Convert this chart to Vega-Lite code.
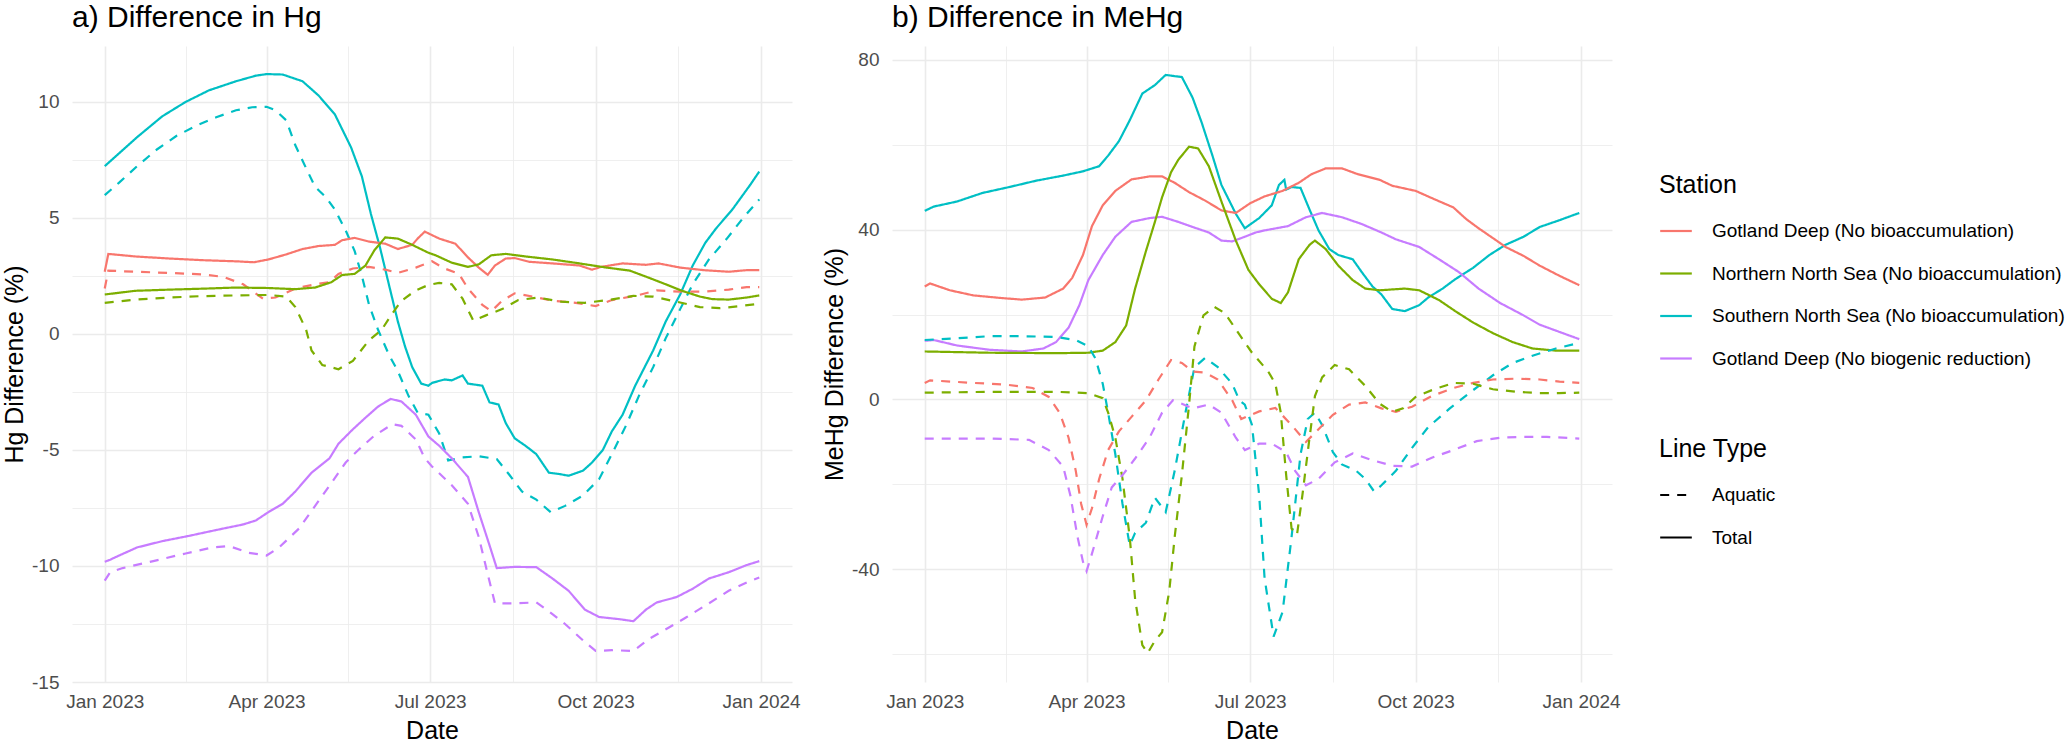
{
  "$schema": "https://vega.github.io/schema/vega-lite/v6.json",
  "background": "white",
  "padding": {"left": 2, "top": 3, "right": 0, "bottom": 0},
  "config": {
    "font": "Liberation Sans",
    "view": {"stroke": null},
    "axis": {"domain": false, "ticks": false, "labelColor": "#4D4D4D", "labelFontSize": 19, "titleFontSize": 25, "titleFontWeight": "normal", "titleColor": "#000000", "gridColor": "#EBEBEB", "labelOverlap": false, "labelFlush": false, "labelBound": false},
    "title": {"fontSize": 30, "fontWeight": "normal", "anchor": "start", "frame": "group", "offset": 13, "color": "#000000"},
    "legend": {"titleFontSize": 25, "titleFontWeight": "normal", "titleColor": "#000000", "labelFontSize": 19, "labelColor": "#000000", "labelLimit": 600, "symbolType": "stroke", "symbolSize": 1000, "symbolStrokeWidth": 2.2, "rowPadding": 15.5, "titlePadding": 16, "labelOffset": 19}
  },
  "datasets": {
    "stations": [
      {"code": "GD", "name": "Gotland Deep (No bioaccumulation)"},
      {"code": "NNS", "name": "Northern North Sea (No bioaccumulation)"},
      {"code": "SNS", "name": "Southern North Sea (No bioaccumulation)"},
      {"code": "GDB", "name": "Gotland Deep (No biogenic reduction)"}
    ],
    "hg": [
      {"station":"SNS","type":"Total","date":"2023-01-01","value":7.23},
      {"station":"SNS","type":"Total","date":"2023-01-19","value":8.48},
      {"station":"SNS","type":"Total","date":"2023-02-02","value":9.38},
      {"station":"SNS","type":"Total","date":"2023-02-15","value":10.0},
      {"station":"SNS","type":"Total","date":"2023-02-28","value":10.5},
      {"station":"SNS","type":"Total","date":"2023-03-15","value":10.89},
      {"station":"SNS","type":"Total","date":"2023-03-26","value":11.13},
      {"station":"SNS","type":"Total","date":"2023-04-01","value":11.2},
      {"station":"SNS","type":"Total","date":"2023-04-10","value":11.18},
      {"station":"SNS","type":"Total","date":"2023-04-21","value":10.89},
      {"station":"SNS","type":"Total","date":"2023-04-30","value":10.27},
      {"station":"SNS","type":"Total","date":"2023-05-09","value":9.46},
      {"station":"SNS","type":"Total","date":"2023-05-18","value":8.04},
      {"station":"SNS","type":"Total","date":"2023-05-24","value":6.79},
      {"station":"SNS","type":"Total","date":"2023-05-29","value":5.18},
      {"station":"SNS","type":"Total","date":"2023-06-03","value":3.75},
      {"station":"SNS","type":"Total","date":"2023-06-08","value":2.14},
      {"station":"SNS","type":"Total","date":"2023-06-13","value":0.54},
      {"station":"SNS","type":"Total","date":"2023-06-17","value":-0.54},
      {"station":"SNS","type":"Total","date":"2023-06-21","value":-1.43},
      {"station":"SNS","type":"Total","date":"2023-06-26","value":-2.14},
      {"station":"SNS","type":"Total","date":"2023-06-30","value":-2.23},
      {"station":"SNS","type":"Total","date":"2023-07-02","value":-2.11},
      {"station":"SNS","type":"Total","date":"2023-07-09","value":-1.96},
      {"station":"SNS","type":"Total","date":"2023-07-13","value":-2.0},
      {"station":"SNS","type":"Total","date":"2023-07-19","value":-1.79},
      {"station":"SNS","type":"Total","date":"2023-07-22","value":-2.14},
      {"station":"SNS","type":"Total","date":"2023-07-30","value":-2.23},
      {"station":"SNS","type":"Total","date":"2023-08-03","value":-2.95},
      {"station":"SNS","type":"Total","date":"2023-08-08","value":-3.04},
      {"station":"SNS","type":"Total","date":"2023-08-12","value":-3.84},
      {"station":"SNS","type":"Total","date":"2023-08-17","value":-4.5},
      {"station":"SNS","type":"Total","date":"2023-08-23","value":-4.82},
      {"station":"SNS","type":"Total","date":"2023-08-29","value":-5.18},
      {"station":"SNS","type":"Total","date":"2023-09-05","value":-5.98},
      {"station":"SNS","type":"Total","date":"2023-09-11","value":-6.04},
      {"station":"SNS","type":"Total","date":"2023-09-16","value":-6.11},
      {"station":"SNS","type":"Total","date":"2023-09-24","value":-5.89},
      {"station":"SNS","type":"Total","date":"2023-09-29","value":-5.54},
      {"station":"SNS","type":"Total","date":"2023-10-05","value":-5.0},
      {"station":"SNS","type":"Total","date":"2023-10-10","value":-4.2},
      {"station":"SNS","type":"Total","date":"2023-10-16","value":-3.48},
      {"station":"SNS","type":"Total","date":"2023-10-23","value":-2.23},
      {"station":"SNS","type":"Total","date":"2023-11-02","value":-0.71},
      {"station":"SNS","type":"Total","date":"2023-11-09","value":0.54},
      {"station":"SNS","type":"Total","date":"2023-11-17","value":1.7},
      {"station":"SNS","type":"Total","date":"2023-11-24","value":2.95},
      {"station":"SNS","type":"Total","date":"2023-12-01","value":3.93},
      {"station":"SNS","type":"Total","date":"2023-12-07","value":4.55},
      {"station":"SNS","type":"Total","date":"2023-12-16","value":5.36},
      {"station":"SNS","type":"Total","date":"2023-12-26","value":6.43},
      {"station":"SNS","type":"Total","date":"2023-12-31","value":7.0},
      {"station":"SNS","type":"Aquatic","date":"2023-01-01","value":5.98},
      {"station":"SNS","type":"Aquatic","date":"2023-01-09","value":6.52},
      {"station":"SNS","type":"Aquatic","date":"2023-01-19","value":7.23},
      {"station":"SNS","type":"Aquatic","date":"2023-01-30","value":7.95},
      {"station":"SNS","type":"Aquatic","date":"2023-02-10","value":8.54},
      {"station":"SNS","type":"Aquatic","date":"2023-02-21","value":8.98},
      {"station":"SNS","type":"Aquatic","date":"2023-03-04","value":9.34},
      {"station":"SNS","type":"Aquatic","date":"2023-03-15","value":9.64},
      {"station":"SNS","type":"Aquatic","date":"2023-03-24","value":9.77},
      {"station":"SNS","type":"Aquatic","date":"2023-04-01","value":9.79},
      {"station":"SNS","type":"Aquatic","date":"2023-04-06","value":9.64},
      {"station":"SNS","type":"Aquatic","date":"2023-04-12","value":9.2},
      {"station":"SNS","type":"Aquatic","date":"2023-04-17","value":8.13},
      {"station":"SNS","type":"Aquatic","date":"2023-04-23","value":7.14},
      {"station":"SNS","type":"Aquatic","date":"2023-04-28","value":6.34},
      {"station":"SNS","type":"Aquatic","date":"2023-05-04","value":5.89},
      {"station":"SNS","type":"Aquatic","date":"2023-05-09","value":5.36},
      {"station":"SNS","type":"Aquatic","date":"2023-05-15","value":4.46},
      {"station":"SNS","type":"Aquatic","date":"2023-05-20","value":3.57},
      {"station":"SNS","type":"Aquatic","date":"2023-05-24","value":2.5},
      {"station":"SNS","type":"Aquatic","date":"2023-05-28","value":1.25},
      {"station":"SNS","type":"Aquatic","date":"2023-06-02","value":0.18},
      {"station":"SNS","type":"Aquatic","date":"2023-06-08","value":-0.89},
      {"station":"SNS","type":"Aquatic","date":"2023-06-13","value":-1.6},
      {"station":"SNS","type":"Aquatic","date":"2023-06-19","value":-2.68},
      {"station":"SNS","type":"Aquatic","date":"2023-06-24","value":-3.39},
      {"station":"SNS","type":"Aquatic","date":"2023-06-30","value":-3.48},
      {"station":"SNS","type":"Aquatic","date":"2023-07-06","value":-4.29},
      {"station":"SNS","type":"Aquatic","date":"2023-07-11","value":-5.45},
      {"station":"SNS","type":"Aquatic","date":"2023-07-19","value":-5.32},
      {"station":"SNS","type":"Aquatic","date":"2023-07-28","value":-5.27},
      {"station":"SNS","type":"Aquatic","date":"2023-08-07","value":-5.39},
      {"station":"SNS","type":"Aquatic","date":"2023-08-14","value":-6.07},
      {"station":"SNS","type":"Aquatic","date":"2023-08-21","value":-6.79},
      {"station":"SNS","type":"Aquatic","date":"2023-08-29","value":-7.14},
      {"station":"SNS","type":"Aquatic","date":"2023-09-06","value":-7.68},
      {"station":"SNS","type":"Aquatic","date":"2023-09-14","value":-7.41},
      {"station":"SNS","type":"Aquatic","date":"2023-09-24","value":-6.96},
      {"station":"SNS","type":"Aquatic","date":"2023-10-03","value":-6.25},
      {"station":"SNS","type":"Aquatic","date":"2023-10-10","value":-5.18},
      {"station":"SNS","type":"Aquatic","date":"2023-10-18","value":-3.93},
      {"station":"SNS","type":"Aquatic","date":"2023-10-25","value":-2.68},
      {"station":"SNS","type":"Aquatic","date":"2023-11-02","value":-1.43},
      {"station":"SNS","type":"Aquatic","date":"2023-11-09","value":-0.18},
      {"station":"SNS","type":"Aquatic","date":"2023-11-17","value":1.07},
      {"station":"SNS","type":"Aquatic","date":"2023-11-24","value":2.14},
      {"station":"SNS","type":"Aquatic","date":"2023-12-03","value":3.21},
      {"station":"SNS","type":"Aquatic","date":"2023-12-13","value":4.11},
      {"station":"SNS","type":"Aquatic","date":"2023-12-22","value":5.0},
      {"station":"SNS","type":"Aquatic","date":"2023-12-31","value":5.8},
      {"station":"GD","type":"Total","date":"2023-01-01","value":2.68},
      {"station":"GD","type":"Total","date":"2023-01-03","value":3.45},
      {"station":"GD","type":"Total","date":"2023-01-18","value":3.34},
      {"station":"GD","type":"Total","date":"2023-02-06","value":3.25},
      {"station":"GD","type":"Total","date":"2023-02-24","value":3.18},
      {"station":"GD","type":"Total","date":"2023-03-15","value":3.13},
      {"station":"GD","type":"Total","date":"2023-03-25","value":3.09},
      {"station":"GD","type":"Total","date":"2023-04-02","value":3.21},
      {"station":"GD","type":"Total","date":"2023-04-12","value":3.43},
      {"station":"GD","type":"Total","date":"2023-04-21","value":3.66},
      {"station":"GD","type":"Total","date":"2023-04-30","value":3.79},
      {"station":"GD","type":"Total","date":"2023-05-09","value":3.84},
      {"station":"GD","type":"Total","date":"2023-05-13","value":4.04},
      {"station":"GD","type":"Total","date":"2023-05-20","value":4.14},
      {"station":"GD","type":"Total","date":"2023-05-28","value":3.98},
      {"station":"GD","type":"Total","date":"2023-06-06","value":3.89},
      {"station":"GD","type":"Total","date":"2023-06-13","value":3.66},
      {"station":"GD","type":"Total","date":"2023-06-21","value":3.84},
      {"station":"GD","type":"Total","date":"2023-06-24","value":4.11},
      {"station":"GD","type":"Total","date":"2023-06-28","value":4.41},
      {"station":"GD","type":"Total","date":"2023-07-06","value":4.11},
      {"station":"GD","type":"Total","date":"2023-07-15","value":3.89},
      {"station":"GD","type":"Total","date":"2023-07-22","value":3.3},
      {"station":"GD","type":"Total","date":"2023-07-28","value":2.86},
      {"station":"GD","type":"Total","date":"2023-08-02","value":2.55},
      {"station":"GD","type":"Total","date":"2023-08-06","value":2.95},
      {"station":"GD","type":"Total","date":"2023-08-12","value":3.25},
      {"station":"GD","type":"Total","date":"2023-08-17","value":3.27},
      {"station":"GD","type":"Total","date":"2023-08-25","value":3.11},
      {"station":"GD","type":"Total","date":"2023-09-07","value":3.04},
      {"station":"GD","type":"Total","date":"2023-09-22","value":2.95},
      {"station":"GD","type":"Total","date":"2023-09-29","value":2.77},
      {"station":"GD","type":"Total","date":"2023-10-04","value":2.89},
      {"station":"GD","type":"Total","date":"2023-10-16","value":3.04},
      {"station":"GD","type":"Total","date":"2023-10-29","value":2.98},
      {"station":"GD","type":"Total","date":"2023-11-05","value":3.04},
      {"station":"GD","type":"Total","date":"2023-11-17","value":2.86},
      {"station":"GD","type":"Total","date":"2023-11-30","value":2.75},
      {"station":"GD","type":"Total","date":"2023-12-14","value":2.68},
      {"station":"GD","type":"Total","date":"2023-12-24","value":2.75},
      {"station":"GD","type":"Total","date":"2023-12-31","value":2.75},
      {"station":"GD","type":"Aquatic","date":"2023-01-01","value":1.96},
      {"station":"GD","type":"Aquatic","date":"2023-01-03","value":2.73},
      {"station":"GD","type":"Aquatic","date":"2023-01-18","value":2.68},
      {"station":"GD","type":"Aquatic","date":"2023-02-06","value":2.63},
      {"station":"GD","type":"Aquatic","date":"2023-02-24","value":2.57},
      {"station":"GD","type":"Aquatic","date":"2023-03-08","value":2.46},
      {"station":"GD","type":"Aquatic","date":"2023-03-19","value":2.14},
      {"station":"GD","type":"Aquatic","date":"2023-03-30","value":1.52},
      {"station":"GD","type":"Aquatic","date":"2023-04-06","value":1.57},
      {"station":"GD","type":"Aquatic","date":"2023-04-17","value":1.96},
      {"station":"GD","type":"Aquatic","date":"2023-04-28","value":2.14},
      {"station":"GD","type":"Aquatic","date":"2023-05-06","value":2.23},
      {"station":"GD","type":"Aquatic","date":"2023-05-11","value":2.59},
      {"station":"GD","type":"Aquatic","date":"2023-05-19","value":2.82},
      {"station":"GD","type":"Aquatic","date":"2023-05-28","value":2.89},
      {"station":"GD","type":"Aquatic","date":"2023-06-06","value":2.77},
      {"station":"GD","type":"Aquatic","date":"2023-06-13","value":2.63},
      {"station":"GD","type":"Aquatic","date":"2023-06-23","value":2.86},
      {"station":"GD","type":"Aquatic","date":"2023-06-26","value":2.95},
      {"station":"GD","type":"Aquatic","date":"2023-07-02","value":3.13},
      {"station":"GD","type":"Aquatic","date":"2023-07-09","value":2.82},
      {"station":"GD","type":"Aquatic","date":"2023-07-17","value":2.59},
      {"station":"GD","type":"Aquatic","date":"2023-07-22","value":1.96},
      {"station":"GD","type":"Aquatic","date":"2023-07-30","value":1.25},
      {"station":"GD","type":"Aquatic","date":"2023-08-04","value":0.98},
      {"station":"GD","type":"Aquatic","date":"2023-08-10","value":1.43},
      {"station":"GD","type":"Aquatic","date":"2023-08-17","value":1.75},
      {"station":"GD","type":"Aquatic","date":"2023-08-27","value":1.61},
      {"station":"GD","type":"Aquatic","date":"2023-09-07","value":1.43},
      {"station":"GD","type":"Aquatic","date":"2023-09-20","value":1.34},
      {"station":"GD","type":"Aquatic","date":"2023-10-01","value":1.2},
      {"station":"GD","type":"Aquatic","date":"2023-10-10","value":1.46},
      {"station":"GD","type":"Aquatic","date":"2023-10-23","value":1.64},
      {"station":"GD","type":"Aquatic","date":"2023-11-04","value":1.88},
      {"station":"GD","type":"Aquatic","date":"2023-11-17","value":1.82},
      {"station":"GD","type":"Aquatic","date":"2023-11-30","value":1.82},
      {"station":"GD","type":"Aquatic","date":"2023-12-14","value":1.91},
      {"station":"GD","type":"Aquatic","date":"2023-12-24","value":2.02},
      {"station":"GD","type":"Aquatic","date":"2023-12-31","value":2.02},
      {"station":"NNS","type":"Total","date":"2023-01-01","value":1.7},
      {"station":"NNS","type":"Total","date":"2023-01-18","value":1.86},
      {"station":"NNS","type":"Total","date":"2023-02-06","value":1.91},
      {"station":"NNS","type":"Total","date":"2023-02-24","value":1.95},
      {"station":"NNS","type":"Total","date":"2023-03-15","value":2.0},
      {"station":"NNS","type":"Total","date":"2023-04-02","value":1.98},
      {"station":"NNS","type":"Total","date":"2023-04-17","value":1.93},
      {"station":"NNS","type":"Total","date":"2023-04-28","value":2.0},
      {"station":"NNS","type":"Total","date":"2023-05-07","value":2.23},
      {"station":"NNS","type":"Total","date":"2023-05-13","value":2.54},
      {"station":"NNS","type":"Total","date":"2023-05-20","value":2.59},
      {"station":"NNS","type":"Total","date":"2023-05-26","value":2.95},
      {"station":"NNS","type":"Total","date":"2023-05-31","value":3.61},
      {"station":"NNS","type":"Total","date":"2023-06-06","value":4.16},
      {"station":"NNS","type":"Total","date":"2023-06-13","value":4.11},
      {"station":"NNS","type":"Total","date":"2023-06-21","value":3.84},
      {"station":"NNS","type":"Total","date":"2023-06-26","value":3.65},
      {"station":"NNS","type":"Total","date":"2023-06-30","value":3.5},
      {"station":"NNS","type":"Total","date":"2023-07-04","value":3.39},
      {"station":"NNS","type":"Total","date":"2023-07-13","value":3.07},
      {"station":"NNS","type":"Total","date":"2023-07-22","value":2.89},
      {"station":"NNS","type":"Total","date":"2023-07-28","value":3.0},
      {"station":"NNS","type":"Total","date":"2023-08-04","value":3.39},
      {"station":"NNS","type":"Total","date":"2023-08-12","value":3.45},
      {"station":"NNS","type":"Total","date":"2023-08-23","value":3.34},
      {"station":"NNS","type":"Total","date":"2023-09-07","value":3.21},
      {"station":"NNS","type":"Total","date":"2023-09-22","value":3.04},
      {"station":"NNS","type":"Total","date":"2023-10-07","value":2.86},
      {"station":"NNS","type":"Total","date":"2023-10-20","value":2.73},
      {"station":"NNS","type":"Total","date":"2023-10-31","value":2.41},
      {"station":"NNS","type":"Total","date":"2023-11-09","value":2.14},
      {"station":"NNS","type":"Total","date":"2023-11-18","value":1.86},
      {"station":"NNS","type":"Total","date":"2023-11-28","value":1.61},
      {"station":"NNS","type":"Total","date":"2023-12-05","value":1.5},
      {"station":"NNS","type":"Total","date":"2023-12-14","value":1.48},
      {"station":"NNS","type":"Total","date":"2023-12-24","value":1.57},
      {"station":"NNS","type":"Total","date":"2023-12-31","value":1.66},
      {"station":"NNS","type":"Aquatic","date":"2023-01-01","value":1.34},
      {"station":"NNS","type":"Aquatic","date":"2023-01-18","value":1.48},
      {"station":"NNS","type":"Aquatic","date":"2023-02-06","value":1.57},
      {"station":"NNS","type":"Aquatic","date":"2023-02-24","value":1.63},
      {"station":"NNS","type":"Aquatic","date":"2023-03-15","value":1.66},
      {"station":"NNS","type":"Aquatic","date":"2023-04-02","value":1.68},
      {"station":"NNS","type":"Aquatic","date":"2023-04-12","value":1.61},
      {"station":"NNS","type":"Aquatic","date":"2023-04-17","value":1.16},
      {"station":"NNS","type":"Aquatic","date":"2023-04-23","value":0.18},
      {"station":"NNS","type":"Aquatic","date":"2023-04-26","value":-0.71},
      {"station":"NNS","type":"Aquatic","date":"2023-05-02","value":-1.34},
      {"station":"NNS","type":"Aquatic","date":"2023-05-11","value":-1.52},
      {"station":"NNS","type":"Aquatic","date":"2023-05-19","value":-1.16},
      {"station":"NNS","type":"Aquatic","date":"2023-05-28","value":-0.27},
      {"station":"NNS","type":"Aquatic","date":"2023-06-04","value":0.18},
      {"station":"NNS","type":"Aquatic","date":"2023-06-10","value":0.89},
      {"station":"NNS","type":"Aquatic","date":"2023-06-15","value":1.43},
      {"station":"NNS","type":"Aquatic","date":"2023-06-23","value":1.88},
      {"station":"NNS","type":"Aquatic","date":"2023-06-30","value":2.11},
      {"station":"NNS","type":"Aquatic","date":"2023-07-06","value":2.2},
      {"station":"NNS","type":"Aquatic","date":"2023-07-13","value":2.14},
      {"station":"NNS","type":"Aquatic","date":"2023-07-19","value":1.52},
      {"station":"NNS","type":"Aquatic","date":"2023-07-25","value":0.57},
      {"station":"NNS","type":"Aquatic","date":"2023-08-01","value":0.8},
      {"station":"NNS","type":"Aquatic","date":"2023-08-10","value":1.07},
      {"station":"NNS","type":"Aquatic","date":"2023-08-19","value":1.46},
      {"station":"NNS","type":"Aquatic","date":"2023-08-30","value":1.57},
      {"station":"NNS","type":"Aquatic","date":"2023-09-12","value":1.39},
      {"station":"NNS","type":"Aquatic","date":"2023-09-25","value":1.34},
      {"station":"NNS","type":"Aquatic","date":"2023-10-08","value":1.46},
      {"station":"NNS","type":"Aquatic","date":"2023-10-22","value":1.64},
      {"station":"NNS","type":"Aquatic","date":"2023-11-02","value":1.61},
      {"station":"NNS","type":"Aquatic","date":"2023-11-15","value":1.39},
      {"station":"NNS","type":"Aquatic","date":"2023-11-28","value":1.16},
      {"station":"NNS","type":"Aquatic","date":"2023-12-09","value":1.11},
      {"station":"NNS","type":"Aquatic","date":"2023-12-20","value":1.2},
      {"station":"NNS","type":"Aquatic","date":"2023-12-31","value":1.3},
      {"station":"GDB","type":"Total","date":"2023-01-01","value":-9.82},
      {"station":"GDB","type":"Total","date":"2023-01-04","value":-9.73},
      {"station":"GDB","type":"Total","date":"2023-01-09","value":-9.55},
      {"station":"GDB","type":"Total","date":"2023-01-19","value":-9.2},
      {"station":"GDB","type":"Total","date":"2023-02-02","value":-8.93},
      {"station":"GDB","type":"Total","date":"2023-02-17","value":-8.7},
      {"station":"GDB","type":"Total","date":"2023-03-04","value":-8.45},
      {"station":"GDB","type":"Total","date":"2023-03-19","value":-8.21},
      {"station":"GDB","type":"Total","date":"2023-03-26","value":-8.04},
      {"station":"GDB","type":"Total","date":"2023-04-02","value":-7.68},
      {"station":"GDB","type":"Total","date":"2023-04-10","value":-7.32},
      {"station":"GDB","type":"Total","date":"2023-04-17","value":-6.79},
      {"station":"GDB","type":"Total","date":"2023-04-26","value":-5.98},
      {"station":"GDB","type":"Total","date":"2023-05-06","value":-5.36},
      {"station":"GDB","type":"Total","date":"2023-05-11","value":-4.73},
      {"station":"GDB","type":"Total","date":"2023-05-19","value":-4.11},
      {"station":"GDB","type":"Total","date":"2023-05-26","value":-3.61},
      {"station":"GDB","type":"Total","date":"2023-06-02","value":-3.13},
      {"station":"GDB","type":"Total","date":"2023-06-09","value":-2.8},
      {"station":"GDB","type":"Total","date":"2023-06-15","value":-2.91},
      {"station":"GDB","type":"Total","date":"2023-06-23","value":-3.48},
      {"station":"GDB","type":"Total","date":"2023-06-30","value":-4.42},
      {"station":"GDB","type":"Total","date":"2023-07-06","value":-4.82},
      {"station":"GDB","type":"Total","date":"2023-07-13","value":-5.36},
      {"station":"GDB","type":"Total","date":"2023-07-22","value":-6.16},
      {"station":"GDB","type":"Total","date":"2023-07-28","value":-7.68},
      {"station":"GDB","type":"Total","date":"2023-08-03","value":-9.11},
      {"station":"GDB","type":"Total","date":"2023-08-07","value":-10.09},
      {"station":"GDB","type":"Total","date":"2023-08-17","value":-10.04},
      {"station":"GDB","type":"Total","date":"2023-08-29","value":-10.05},
      {"station":"GDB","type":"Total","date":"2023-09-07","value":-10.54},
      {"station":"GDB","type":"Total","date":"2023-09-16","value":-11.07},
      {"station":"GDB","type":"Total","date":"2023-09-25","value":-11.88},
      {"station":"GDB","type":"Total","date":"2023-10-03","value":-12.2},
      {"station":"GDB","type":"Total","date":"2023-10-14","value":-12.29},
      {"station":"GDB","type":"Total","date":"2023-10-22","value":-12.38},
      {"station":"GDB","type":"Total","date":"2023-10-29","value":-11.88},
      {"station":"GDB","type":"Total","date":"2023-11-04","value":-11.57},
      {"station":"GDB","type":"Total","date":"2023-11-15","value":-11.34},
      {"station":"GDB","type":"Total","date":"2023-11-24","value":-10.98},
      {"station":"GDB","type":"Total","date":"2023-12-03","value":-10.54},
      {"station":"GDB","type":"Total","date":"2023-12-14","value":-10.27},
      {"station":"GDB","type":"Total","date":"2023-12-24","value":-9.96},
      {"station":"GDB","type":"Total","date":"2023-12-31","value":-9.79},
      {"station":"GDB","type":"Aquatic","date":"2023-01-01","value":-10.63},
      {"station":"GDB","type":"Aquatic","date":"2023-01-04","value":-10.27},
      {"station":"GDB","type":"Aquatic","date":"2023-01-11","value":-10.09},
      {"station":"GDB","type":"Aquatic","date":"2023-01-28","value":-9.79},
      {"station":"GDB","type":"Aquatic","date":"2023-02-15","value":-9.46},
      {"station":"GDB","type":"Aquatic","date":"2023-03-02","value":-9.2},
      {"station":"GDB","type":"Aquatic","date":"2023-03-11","value":-9.14},
      {"station":"GDB","type":"Aquatic","date":"2023-03-22","value":-9.43},
      {"station":"GDB","type":"Aquatic","date":"2023-04-01","value":-9.55},
      {"station":"GDB","type":"Aquatic","date":"2023-04-08","value":-9.2},
      {"station":"GDB","type":"Aquatic","date":"2023-04-19","value":-8.39},
      {"station":"GDB","type":"Aquatic","date":"2023-04-28","value":-7.41},
      {"station":"GDB","type":"Aquatic","date":"2023-05-07","value":-6.43},
      {"station":"GDB","type":"Aquatic","date":"2023-05-15","value":-5.54},
      {"station":"GDB","type":"Aquatic","date":"2023-05-22","value":-5.0},
      {"station":"GDB","type":"Aquatic","date":"2023-05-31","value":-4.38},
      {"station":"GDB","type":"Aquatic","date":"2023-06-10","value":-3.89},
      {"station":"GDB","type":"Aquatic","date":"2023-06-15","value":-3.96},
      {"station":"GDB","type":"Aquatic","date":"2023-06-23","value":-4.55},
      {"station":"GDB","type":"Aquatic","date":"2023-06-28","value":-5.36},
      {"station":"GDB","type":"Aquatic","date":"2023-07-02","value":-5.71},
      {"station":"GDB","type":"Aquatic","date":"2023-07-13","value":-6.52},
      {"station":"GDB","type":"Aquatic","date":"2023-07-22","value":-7.32},
      {"station":"GDB","type":"Aquatic","date":"2023-07-28","value":-8.75},
      {"station":"GDB","type":"Aquatic","date":"2023-08-02","value":-10.36},
      {"station":"GDB","type":"Aquatic","date":"2023-08-06","value":-11.61},
      {"station":"GDB","type":"Aquatic","date":"2023-08-17","value":-11.61},
      {"station":"GDB","type":"Aquatic","date":"2023-08-29","value":-11.57},
      {"station":"GDB","type":"Aquatic","date":"2023-09-05","value":-11.96},
      {"station":"GDB","type":"Aquatic","date":"2023-09-14","value":-12.5},
      {"station":"GDB","type":"Aquatic","date":"2023-09-24","value":-13.21},
      {"station":"GDB","type":"Aquatic","date":"2023-10-01","value":-13.66},
      {"station":"GDB","type":"Aquatic","date":"2023-10-10","value":-13.63},
      {"station":"GDB","type":"Aquatic","date":"2023-10-22","value":-13.66},
      {"station":"GDB","type":"Aquatic","date":"2023-10-31","value":-13.13},
      {"station":"GDB","type":"Aquatic","date":"2023-11-11","value":-12.64},
      {"station":"GDB","type":"Aquatic","date":"2023-11-20","value":-12.23},
      {"station":"GDB","type":"Aquatic","date":"2023-12-03","value":-11.61},
      {"station":"GDB","type":"Aquatic","date":"2023-12-14","value":-11.07},
      {"station":"GDB","type":"Aquatic","date":"2023-12-24","value":-10.71},
      {"station":"GDB","type":"Aquatic","date":"2023-12-31","value":-10.5}
    ],
    "mehg": [
      {"station":"SNS","type":"Total","date":"2023-01-01","value":44.4},
      {"station":"SNS","type":"Total","date":"2023-01-06","value":45.4},
      {"station":"SNS","type":"Total","date":"2023-01-19","value":46.6},
      {"station":"SNS","type":"Total","date":"2023-02-02","value":48.6},
      {"station":"SNS","type":"Total","date":"2023-02-17","value":50.0},
      {"station":"SNS","type":"Total","date":"2023-03-04","value":51.5},
      {"station":"SNS","type":"Total","date":"2023-03-19","value":52.7},
      {"station":"SNS","type":"Total","date":"2023-03-30","value":53.7},
      {"station":"SNS","type":"Total","date":"2023-04-08","value":54.9},
      {"station":"SNS","type":"Total","date":"2023-04-13","value":57.4},
      {"station":"SNS","type":"Total","date":"2023-04-19","value":60.8},
      {"station":"SNS","type":"Total","date":"2023-04-25","value":65.7},
      {"station":"SNS","type":"Total","date":"2023-05-02","value":72.0},
      {"station":"SNS","type":"Total","date":"2023-05-09","value":74.0},
      {"station":"SNS","type":"Total","date":"2023-05-15","value":76.4},
      {"station":"SNS","type":"Total","date":"2023-05-20","value":76.1},
      {"station":"SNS","type":"Total","date":"2023-05-24","value":75.9},
      {"station":"SNS","type":"Total","date":"2023-05-30","value":71.0},
      {"station":"SNS","type":"Total","date":"2023-06-04","value":65.2},
      {"station":"SNS","type":"Total","date":"2023-06-10","value":57.4},
      {"station":"SNS","type":"Total","date":"2023-06-15","value":50.5},
      {"station":"SNS","type":"Total","date":"2023-06-23","value":43.7},
      {"station":"SNS","type":"Total","date":"2023-06-28","value":40.3},
      {"station":"SNS","type":"Total","date":"2023-07-06","value":42.7},
      {"station":"SNS","type":"Total","date":"2023-07-13","value":45.7},
      {"station":"SNS","type":"Total","date":"2023-07-17","value":50.5},
      {"station":"SNS","type":"Total","date":"2023-07-20","value":51.7},
      {"station":"SNS","type":"Total","date":"2023-07-21","value":49.4},
      {"station":"SNS","type":"Total","date":"2023-07-24","value":50.0},
      {"station":"SNS","type":"Total","date":"2023-07-29","value":49.8},
      {"station":"SNS","type":"Total","date":"2023-08-03","value":44.7},
      {"station":"SNS","type":"Total","date":"2023-08-08","value":39.8},
      {"station":"SNS","type":"Total","date":"2023-08-14","value":35.4},
      {"station":"SNS","type":"Total","date":"2023-08-19","value":34.0},
      {"station":"SNS","type":"Total","date":"2023-08-27","value":33.0},
      {"station":"SNS","type":"Total","date":"2023-09-01","value":30.0},
      {"station":"SNS","type":"Total","date":"2023-09-07","value":26.6},
      {"station":"SNS","type":"Total","date":"2023-09-12","value":24.7},
      {"station":"SNS","type":"Total","date":"2023-09-18","value":21.3},
      {"station":"SNS","type":"Total","date":"2023-09-25","value":20.8},
      {"station":"SNS","type":"Total","date":"2023-10-03","value":22.2},
      {"station":"SNS","type":"Total","date":"2023-10-08","value":24.0},
      {"station":"SNS","type":"Total","date":"2023-10-16","value":26.1},
      {"station":"SNS","type":"Total","date":"2023-10-23","value":28.3},
      {"station":"SNS","type":"Total","date":"2023-11-02","value":31.0},
      {"station":"SNS","type":"Total","date":"2023-11-11","value":34.0},
      {"station":"SNS","type":"Total","date":"2023-11-20","value":36.4},
      {"station":"SNS","type":"Total","date":"2023-11-30","value":38.3},
      {"station":"SNS","type":"Total","date":"2023-12-09","value":40.6},
      {"station":"SNS","type":"Total","date":"2023-12-20","value":42.2},
      {"station":"SNS","type":"Total","date":"2023-12-31","value":43.9},
      {"station":"GD","type":"Total","date":"2023-01-01","value":26.6},
      {"station":"GD","type":"Total","date":"2023-01-04","value":27.3},
      {"station":"GD","type":"Total","date":"2023-01-15","value":25.7},
      {"station":"GD","type":"Total","date":"2023-01-28","value":24.5},
      {"station":"GD","type":"Total","date":"2023-02-12","value":23.9},
      {"station":"GD","type":"Total","date":"2023-02-24","value":23.5},
      {"station":"GD","type":"Total","date":"2023-03-09","value":24.0},
      {"station":"GD","type":"Total","date":"2023-03-19","value":26.1},
      {"station":"GD","type":"Total","date":"2023-03-24","value":28.6},
      {"station":"GD","type":"Total","date":"2023-03-30","value":34.0},
      {"station":"GD","type":"Total","date":"2023-04-04","value":40.8},
      {"station":"GD","type":"Total","date":"2023-04-10","value":45.7},
      {"station":"GD","type":"Total","date":"2023-04-17","value":49.1},
      {"station":"GD","type":"Total","date":"2023-04-26","value":51.8},
      {"station":"GD","type":"Total","date":"2023-05-06","value":52.5},
      {"station":"GD","type":"Total","date":"2023-05-13","value":52.5},
      {"station":"GD","type":"Total","date":"2023-05-20","value":51.0},
      {"station":"GD","type":"Total","date":"2023-05-28","value":48.8},
      {"station":"GD","type":"Total","date":"2023-06-06","value":46.8},
      {"station":"GD","type":"Total","date":"2023-06-15","value":44.5},
      {"station":"GD","type":"Total","date":"2023-06-23","value":43.9},
      {"station":"GD","type":"Total","date":"2023-07-01","value":46.2},
      {"station":"GD","type":"Total","date":"2023-07-09","value":47.8},
      {"station":"GD","type":"Total","date":"2023-07-19","value":49.1},
      {"station":"GD","type":"Total","date":"2023-07-28","value":51.0},
      {"station":"GD","type":"Total","date":"2023-08-04","value":53.0},
      {"station":"GD","type":"Total","date":"2023-08-12","value":54.4},
      {"station":"GD","type":"Total","date":"2023-08-21","value":54.4},
      {"station":"GD","type":"Total","date":"2023-08-30","value":53.0},
      {"station":"GD","type":"Total","date":"2023-09-11","value":51.7},
      {"station":"GD","type":"Total","date":"2023-09-18","value":50.3},
      {"station":"GD","type":"Total","date":"2023-10-01","value":49.1},
      {"station":"GD","type":"Total","date":"2023-10-10","value":47.4},
      {"station":"GD","type":"Total","date":"2023-10-22","value":45.2},
      {"station":"GD","type":"Total","date":"2023-10-29","value":42.5},
      {"station":"GD","type":"Total","date":"2023-11-05","value":40.3},
      {"station":"GD","type":"Total","date":"2023-11-15","value":37.4},
      {"station":"GD","type":"Total","date":"2023-11-20","value":35.9},
      {"station":"GD","type":"Total","date":"2023-11-30","value":33.8},
      {"station":"GD","type":"Total","date":"2023-12-09","value":31.5},
      {"station":"GD","type":"Total","date":"2023-12-20","value":29.1},
      {"station":"GD","type":"Total","date":"2023-12-31","value":26.9},
      {"station":"GDB","type":"Total","date":"2023-01-01","value":13.8},
      {"station":"GDB","type":"Total","date":"2023-01-06","value":14.0},
      {"station":"GDB","type":"Total","date":"2023-01-19","value":12.7},
      {"station":"GDB","type":"Total","date":"2023-02-06","value":11.7},
      {"station":"GDB","type":"Total","date":"2023-02-24","value":11.3},
      {"station":"GDB","type":"Total","date":"2023-03-08","value":12.0},
      {"station":"GDB","type":"Total","date":"2023-03-15","value":13.5},
      {"station":"GDB","type":"Total","date":"2023-03-22","value":16.9},
      {"station":"GDB","type":"Total","date":"2023-03-28","value":22.2},
      {"station":"GDB","type":"Total","date":"2023-04-02","value":28.1},
      {"station":"GDB","type":"Total","date":"2023-04-10","value":34.0},
      {"station":"GDB","type":"Total","date":"2023-04-17","value":38.3},
      {"station":"GDB","type":"Total","date":"2023-04-26","value":41.8},
      {"station":"GDB","type":"Total","date":"2023-05-06","value":42.7},
      {"station":"GDB","type":"Total","date":"2023-05-13","value":43.0},
      {"station":"GDB","type":"Total","date":"2023-05-22","value":41.8},
      {"station":"GDB","type":"Total","date":"2023-05-30","value":40.6},
      {"station":"GDB","type":"Total","date":"2023-06-08","value":39.3},
      {"station":"GDB","type":"Total","date":"2023-06-15","value":37.4},
      {"station":"GDB","type":"Total","date":"2023-06-21","value":37.2},
      {"station":"GDB","type":"Total","date":"2023-06-28","value":38.3},
      {"station":"GDB","type":"Total","date":"2023-07-04","value":39.3},
      {"station":"GDB","type":"Total","date":"2023-07-09","value":39.8},
      {"station":"GDB","type":"Total","date":"2023-07-22","value":40.8},
      {"station":"GDB","type":"Total","date":"2023-08-01","value":42.9},
      {"station":"GDB","type":"Total","date":"2023-08-10","value":43.9},
      {"station":"GDB","type":"Total","date":"2023-08-21","value":42.9},
      {"station":"GDB","type":"Total","date":"2023-09-01","value":41.3},
      {"station":"GDB","type":"Total","date":"2023-09-12","value":39.3},
      {"station":"GDB","type":"Total","date":"2023-09-20","value":37.7},
      {"station":"GDB","type":"Total","date":"2023-10-03","value":35.9},
      {"station":"GDB","type":"Total","date":"2023-10-14","value":33.0},
      {"station":"GDB","type":"Total","date":"2023-10-25","value":30.0},
      {"station":"GDB","type":"Total","date":"2023-11-05","value":26.1},
      {"station":"GDB","type":"Total","date":"2023-11-17","value":22.7},
      {"station":"GDB","type":"Total","date":"2023-11-30","value":19.8},
      {"station":"GDB","type":"Total","date":"2023-12-09","value":17.6},
      {"station":"GDB","type":"Total","date":"2023-12-20","value":15.9},
      {"station":"GDB","type":"Total","date":"2023-12-31","value":14.2},
      {"station":"NNS","type":"Total","date":"2023-01-01","value":11.3},
      {"station":"NNS","type":"Total","date":"2023-02-06","value":11.0},
      {"station":"NNS","type":"Total","date":"2023-03-15","value":10.9},
      {"station":"NNS","type":"Total","date":"2023-04-02","value":11.0},
      {"station":"NNS","type":"Total","date":"2023-04-10","value":11.5},
      {"station":"NNS","type":"Total","date":"2023-04-17","value":13.5},
      {"station":"NNS","type":"Total","date":"2023-04-23","value":17.4},
      {"station":"NNS","type":"Total","date":"2023-04-28","value":26.1},
      {"station":"NNS","type":"Total","date":"2023-05-04","value":34.9},
      {"station":"NNS","type":"Total","date":"2023-05-09","value":41.8},
      {"station":"NNS","type":"Total","date":"2023-05-13","value":47.6},
      {"station":"NNS","type":"Total","date":"2023-05-18","value":53.5},
      {"station":"NNS","type":"Total","date":"2023-05-22","value":56.4},
      {"station":"NNS","type":"Total","date":"2023-05-28","value":59.5},
      {"station":"NNS","type":"Total","date":"2023-06-02","value":59.1},
      {"station":"NNS","type":"Total","date":"2023-06-08","value":54.9},
      {"station":"NNS","type":"Total","date":"2023-06-15","value":46.6},
      {"station":"NNS","type":"Total","date":"2023-06-23","value":37.4},
      {"station":"NNS","type":"Total","date":"2023-06-30","value":30.5},
      {"station":"NNS","type":"Total","date":"2023-07-06","value":27.1},
      {"station":"NNS","type":"Total","date":"2023-07-13","value":23.7},
      {"station":"NNS","type":"Total","date":"2023-07-18","value":22.7},
      {"station":"NNS","type":"Total","date":"2023-07-22","value":25.2},
      {"station":"NNS","type":"Total","date":"2023-07-28","value":33.0},
      {"station":"NNS","type":"Total","date":"2023-08-03","value":36.4},
      {"station":"NNS","type":"Total","date":"2023-08-06","value":37.4},
      {"station":"NNS","type":"Total","date":"2023-08-12","value":35.4},
      {"station":"NNS","type":"Total","date":"2023-08-19","value":31.5},
      {"station":"NNS","type":"Total","date":"2023-08-27","value":28.1},
      {"station":"NNS","type":"Total","date":"2023-09-03","value":26.1},
      {"station":"NNS","type":"Total","date":"2023-09-11","value":25.7},
      {"station":"NNS","type":"Total","date":"2023-09-18","value":25.9},
      {"station":"NNS","type":"Total","date":"2023-09-25","value":26.1},
      {"station":"NNS","type":"Total","date":"2023-10-03","value":25.7},
      {"station":"NNS","type":"Total","date":"2023-10-14","value":23.4},
      {"station":"NNS","type":"Total","date":"2023-10-23","value":20.8},
      {"station":"NNS","type":"Total","date":"2023-11-02","value":18.1},
      {"station":"NNS","type":"Total","date":"2023-11-13","value":15.6},
      {"station":"NNS","type":"Total","date":"2023-11-24","value":13.5},
      {"station":"NNS","type":"Total","date":"2023-12-05","value":12.0},
      {"station":"NNS","type":"Total","date":"2023-12-18","value":11.5},
      {"station":"NNS","type":"Total","date":"2023-12-31","value":11.5},
      {"station":"SNS","type":"Aquatic","date":"2023-01-01","value":14.0},
      {"station":"SNS","type":"Aquatic","date":"2023-01-19","value":14.4},
      {"station":"SNS","type":"Aquatic","date":"2023-02-06","value":14.9},
      {"station":"SNS","type":"Aquatic","date":"2023-02-24","value":14.9},
      {"station":"SNS","type":"Aquatic","date":"2023-03-15","value":14.7},
      {"station":"SNS","type":"Aquatic","date":"2023-03-26","value":14.0},
      {"station":"SNS","type":"Aquatic","date":"2023-04-02","value":12.5},
      {"station":"SNS","type":"Aquatic","date":"2023-04-06","value":9.6},
      {"station":"SNS","type":"Aquatic","date":"2023-04-10","value":3.7},
      {"station":"SNS","type":"Aquatic","date":"2023-04-13","value":-3.1},
      {"station":"SNS","type":"Aquatic","date":"2023-04-17","value":-12.9},
      {"station":"SNS","type":"Aquatic","date":"2023-04-21","value":-24.6},
      {"station":"SNS","type":"Aquatic","date":"2023-04-25","value":-34.3},
      {"station":"SNS","type":"Aquatic","date":"2023-04-28","value":-31.4},
      {"station":"SNS","type":"Aquatic","date":"2023-05-04","value":-29.0},
      {"station":"SNS","type":"Aquatic","date":"2023-05-09","value":-23.1},
      {"station":"SNS","type":"Aquatic","date":"2023-05-15","value":-26.5},
      {"station":"SNS","type":"Aquatic","date":"2023-05-20","value":-16.8},
      {"station":"SNS","type":"Aquatic","date":"2023-05-26","value":-3.1},
      {"station":"SNS","type":"Aquatic","date":"2023-05-31","value":7.6},
      {"station":"SNS","type":"Aquatic","date":"2023-06-06","value":9.8},
      {"station":"SNS","type":"Aquatic","date":"2023-06-13","value":7.6},
      {"station":"SNS","type":"Aquatic","date":"2023-06-21","value":3.7},
      {"station":"SNS","type":"Aquatic","date":"2023-06-25","value":-0.2},
      {"station":"SNS","type":"Aquatic","date":"2023-06-28","value":-1.2},
      {"station":"SNS","type":"Aquatic","date":"2023-07-02","value":-6.0},
      {"station":"SNS","type":"Aquatic","date":"2023-07-06","value":-22.6},
      {"station":"SNS","type":"Aquatic","date":"2023-07-09","value":-42.1},
      {"station":"SNS","type":"Aquatic","date":"2023-07-14","value":-55.8},
      {"station":"SNS","type":"Aquatic","date":"2023-07-19","value":-50.0},
      {"station":"SNS","type":"Aquatic","date":"2023-07-24","value":-32.4},
      {"station":"SNS","type":"Aquatic","date":"2023-07-29","value":-12.9},
      {"station":"SNS","type":"Aquatic","date":"2023-08-02","value":-4.6},
      {"station":"SNS","type":"Aquatic","date":"2023-08-06","value":-3.1},
      {"station":"SNS","type":"Aquatic","date":"2023-08-10","value":-6.0},
      {"station":"SNS","type":"Aquatic","date":"2023-08-16","value":-12.4},
      {"station":"SNS","type":"Aquatic","date":"2023-08-21","value":-15.3},
      {"station":"SNS","type":"Aquatic","date":"2023-08-29","value":-16.8},
      {"station":"SNS","type":"Aquatic","date":"2023-09-03","value":-18.7},
      {"station":"SNS","type":"Aquatic","date":"2023-09-08","value":-21.7},
      {"station":"SNS","type":"Aquatic","date":"2023-09-12","value":-20.2},
      {"station":"SNS","type":"Aquatic","date":"2023-09-20","value":-16.8},
      {"station":"SNS","type":"Aquatic","date":"2023-09-29","value":-11.4},
      {"station":"SNS","type":"Aquatic","date":"2023-10-08","value":-6.5},
      {"station":"SNS","type":"Aquatic","date":"2023-10-20","value":-2.1},
      {"station":"SNS","type":"Aquatic","date":"2023-11-02","value":2.2},
      {"station":"SNS","type":"Aquatic","date":"2023-11-13","value":5.7},
      {"station":"SNS","type":"Aquatic","date":"2023-11-24","value":8.6},
      {"station":"SNS","type":"Aquatic","date":"2023-12-05","value":10.3},
      {"station":"SNS","type":"Aquatic","date":"2023-12-18","value":12.0},
      {"station":"SNS","type":"Aquatic","date":"2023-12-31","value":13.3},
      {"station":"GD","type":"Aquatic","date":"2023-01-01","value":3.9},
      {"station":"GD","type":"Aquatic","date":"2023-01-04","value":4.5},
      {"station":"GD","type":"Aquatic","date":"2023-01-28","value":3.9},
      {"station":"GD","type":"Aquatic","date":"2023-02-15","value":3.5},
      {"station":"GD","type":"Aquatic","date":"2023-03-02","value":2.7},
      {"station":"GD","type":"Aquatic","date":"2023-03-11","value":0.6},
      {"station":"GD","type":"Aquatic","date":"2023-03-17","value":-3.1},
      {"station":"GD","type":"Aquatic","date":"2023-03-22","value":-9.0},
      {"station":"GD","type":"Aquatic","date":"2023-03-26","value":-16.8},
      {"station":"GD","type":"Aquatic","date":"2023-03-29","value":-24.6},
      {"station":"GD","type":"Aquatic","date":"2023-04-01","value":-29.5},
      {"station":"GD","type":"Aquatic","date":"2023-04-04","value":-25.6},
      {"station":"GD","type":"Aquatic","date":"2023-04-08","value":-18.7},
      {"station":"GD","type":"Aquatic","date":"2023-04-13","value":-11.9},
      {"station":"GD","type":"Aquatic","date":"2023-04-19","value":-7.5},
      {"station":"GD","type":"Aquatic","date":"2023-04-26","value":-4.1},
      {"station":"GD","type":"Aquatic","date":"2023-05-04","value":-0.2},
      {"station":"GD","type":"Aquatic","date":"2023-05-11","value":4.7},
      {"station":"GD","type":"Aquatic","date":"2023-05-18","value":9.3},
      {"station":"GD","type":"Aquatic","date":"2023-05-24","value":8.6},
      {"station":"GD","type":"Aquatic","date":"2023-05-30","value":6.6},
      {"station":"GD","type":"Aquatic","date":"2023-06-06","value":6.3},
      {"station":"GD","type":"Aquatic","date":"2023-06-13","value":4.7},
      {"station":"GD","type":"Aquatic","date":"2023-06-21","value":-0.2},
      {"station":"GD","type":"Aquatic","date":"2023-06-26","value":-4.6},
      {"station":"GD","type":"Aquatic","date":"2023-07-06","value":-2.8},
      {"station":"GD","type":"Aquatic","date":"2023-07-15","value":-2.0},
      {"station":"GD","type":"Aquatic","date":"2023-07-24","value":-6.0},
      {"station":"GD","type":"Aquatic","date":"2023-08-01","value":-10.0},
      {"station":"GD","type":"Aquatic","date":"2023-08-08","value":-7.0},
      {"station":"GD","type":"Aquatic","date":"2023-08-16","value":-3.6},
      {"station":"GD","type":"Aquatic","date":"2023-08-25","value":-1.2},
      {"station":"GD","type":"Aquatic","date":"2023-09-03","value":-0.7},
      {"station":"GD","type":"Aquatic","date":"2023-09-12","value":-2.1},
      {"station":"GD","type":"Aquatic","date":"2023-09-20","value":-2.9},
      {"station":"GD","type":"Aquatic","date":"2023-09-29","value":-1.7},
      {"station":"GD","type":"Aquatic","date":"2023-10-10","value":0.8},
      {"station":"GD","type":"Aquatic","date":"2023-10-22","value":2.7},
      {"station":"GD","type":"Aquatic","date":"2023-11-02","value":3.9},
      {"station":"GD","type":"Aquatic","date":"2023-11-13","value":4.7},
      {"station":"GD","type":"Aquatic","date":"2023-11-26","value":4.9},
      {"station":"GD","type":"Aquatic","date":"2023-12-09","value":4.7},
      {"station":"GD","type":"Aquatic","date":"2023-12-20","value":4.2},
      {"station":"GD","type":"Aquatic","date":"2023-12-31","value":3.9},
      {"station":"NNS","type":"Aquatic","date":"2023-01-01","value":1.6},
      {"station":"NNS","type":"Aquatic","date":"2023-02-06","value":1.8},
      {"station":"NNS","type":"Aquatic","date":"2023-03-15","value":1.8},
      {"station":"NNS","type":"Aquatic","date":"2023-04-02","value":1.5},
      {"station":"NNS","type":"Aquatic","date":"2023-04-10","value":0.3},
      {"station":"NNS","type":"Aquatic","date":"2023-04-13","value":-3.1},
      {"station":"NNS","type":"Aquatic","date":"2023-04-17","value":-9.0},
      {"station":"NNS","type":"Aquatic","date":"2023-04-21","value":-18.7},
      {"station":"NNS","type":"Aquatic","date":"2023-04-25","value":-32.4},
      {"station":"NNS","type":"Aquatic","date":"2023-04-28","value":-47.0},
      {"station":"NNS","type":"Aquatic","date":"2023-05-02","value":-57.8},
      {"station":"NNS","type":"Aquatic","date":"2023-05-05","value":-59.7},
      {"station":"NNS","type":"Aquatic","date":"2023-05-09","value":-56.8},
      {"station":"NNS","type":"Aquatic","date":"2023-05-13","value":-54.8},
      {"station":"NNS","type":"Aquatic","date":"2023-05-17","value":-45.1},
      {"station":"NNS","type":"Aquatic","date":"2023-05-20","value":-32.4},
      {"station":"NNS","type":"Aquatic","date":"2023-05-24","value":-17.8},
      {"station":"NNS","type":"Aquatic","date":"2023-05-28","value":-1.2},
      {"station":"NNS","type":"Aquatic","date":"2023-05-31","value":12.5},
      {"station":"NNS","type":"Aquatic","date":"2023-06-05","value":19.8},
      {"station":"NNS","type":"Aquatic","date":"2023-06-11","value":21.8},
      {"station":"NNS","type":"Aquatic","date":"2023-06-17","value":20.3},
      {"station":"NNS","type":"Aquatic","date":"2023-06-24","value":15.9},
      {"station":"NNS","type":"Aquatic","date":"2023-07-02","value":11.0},
      {"station":"NNS","type":"Aquatic","date":"2023-07-11","value":6.6},
      {"station":"NNS","type":"Aquatic","date":"2023-07-15","value":3.7},
      {"station":"NNS","type":"Aquatic","date":"2023-07-18","value":-3.1},
      {"station":"NNS","type":"Aquatic","date":"2023-07-21","value":-17.8},
      {"station":"NNS","type":"Aquatic","date":"2023-07-24","value":-30.4},
      {"station":"NNS","type":"Aquatic","date":"2023-07-27","value":-31.9},
      {"station":"NNS","type":"Aquatic","date":"2023-07-30","value":-22.6},
      {"station":"NNS","type":"Aquatic","date":"2023-08-03","value":-9.0},
      {"station":"NNS","type":"Aquatic","date":"2023-08-06","value":0.8},
      {"station":"NNS","type":"Aquatic","date":"2023-08-10","value":5.2},
      {"station":"NNS","type":"Aquatic","date":"2023-08-17","value":8.1},
      {"station":"NNS","type":"Aquatic","date":"2023-08-25","value":7.1},
      {"station":"NNS","type":"Aquatic","date":"2023-09-03","value":3.2},
      {"station":"NNS","type":"Aquatic","date":"2023-09-11","value":-1.0},
      {"station":"NNS","type":"Aquatic","date":"2023-09-18","value":-2.9},
      {"station":"NNS","type":"Aquatic","date":"2023-09-24","value":-2.1},
      {"station":"NNS","type":"Aquatic","date":"2023-10-01","value":0.6},
      {"station":"NNS","type":"Aquatic","date":"2023-10-10","value":2.2},
      {"station":"NNS","type":"Aquatic","date":"2023-10-22","value":3.9},
      {"station":"NNS","type":"Aquatic","date":"2023-11-02","value":3.7},
      {"station":"NNS","type":"Aquatic","date":"2023-11-13","value":2.4},
      {"station":"NNS","type":"Aquatic","date":"2023-11-26","value":1.8},
      {"station":"NNS","type":"Aquatic","date":"2023-12-09","value":1.5},
      {"station":"NNS","type":"Aquatic","date":"2023-12-20","value":1.5},
      {"station":"NNS","type":"Aquatic","date":"2023-12-31","value":1.6},
      {"station":"GDB","type":"Aquatic","date":"2023-01-01","value":-9.2},
      {"station":"GDB","type":"Aquatic","date":"2023-02-06","value":-9.2},
      {"station":"GDB","type":"Aquatic","date":"2023-02-28","value":-9.5},
      {"station":"GDB","type":"Aquatic","date":"2023-03-11","value":-11.9},
      {"station":"GDB","type":"Aquatic","date":"2023-03-19","value":-15.8},
      {"station":"GDB","type":"Aquatic","date":"2023-03-23","value":-22.6},
      {"station":"GDB","type":"Aquatic","date":"2023-03-27","value":-32.4},
      {"station":"GDB","type":"Aquatic","date":"2023-03-30","value":-38.2},
      {"station":"GDB","type":"Aquatic","date":"2023-04-01","value":-40.4},
      {"station":"GDB","type":"Aquatic","date":"2023-04-04","value":-36.3},
      {"station":"GDB","type":"Aquatic","date":"2023-04-10","value":-27.5},
      {"station":"GDB","type":"Aquatic","date":"2023-04-15","value":-20.7},
      {"station":"GDB","type":"Aquatic","date":"2023-04-21","value":-17.8},
      {"station":"GDB","type":"Aquatic","date":"2023-04-28","value":-13.9},
      {"station":"GDB","type":"Aquatic","date":"2023-05-06","value":-9.0},
      {"station":"GDB","type":"Aquatic","date":"2023-05-13","value":-3.1},
      {"station":"GDB","type":"Aquatic","date":"2023-05-19","value":-0.2},
      {"station":"GDB","type":"Aquatic","date":"2023-05-24","value":-1.0},
      {"station":"GDB","type":"Aquatic","date":"2023-05-30","value":-2.1},
      {"station":"GDB","type":"Aquatic","date":"2023-06-08","value":-1.2},
      {"station":"GDB","type":"Aquatic","date":"2023-06-15","value":-3.1},
      {"station":"GDB","type":"Aquatic","date":"2023-06-23","value":-9.0},
      {"station":"GDB","type":"Aquatic","date":"2023-06-28","value":-11.9},
      {"station":"GDB","type":"Aquatic","date":"2023-07-06","value":-10.4},
      {"station":"GDB","type":"Aquatic","date":"2023-07-13","value":-10.4},
      {"station":"GDB","type":"Aquatic","date":"2023-07-21","value":-12.4},
      {"station":"GDB","type":"Aquatic","date":"2023-07-26","value":-16.8},
      {"station":"GDB","type":"Aquatic","date":"2023-08-01","value":-20.2},
      {"station":"GDB","type":"Aquatic","date":"2023-08-08","value":-18.7},
      {"station":"GDB","type":"Aquatic","date":"2023-08-17","value":-14.8},
      {"station":"GDB","type":"Aquatic","date":"2023-08-27","value":-12.7},
      {"station":"GDB","type":"Aquatic","date":"2023-09-07","value":-14.3},
      {"station":"GDB","type":"Aquatic","date":"2023-09-18","value":-15.6},
      {"station":"GDB","type":"Aquatic","date":"2023-09-29","value":-15.8},
      {"station":"GDB","type":"Aquatic","date":"2023-10-10","value":-13.7},
      {"station":"GDB","type":"Aquatic","date":"2023-10-22","value":-11.9},
      {"station":"GDB","type":"Aquatic","date":"2023-11-04","value":-9.8},
      {"station":"GDB","type":"Aquatic","date":"2023-11-17","value":-9.0},
      {"station":"GDB","type":"Aquatic","date":"2023-11-30","value":-8.8},
      {"station":"GDB","type":"Aquatic","date":"2023-12-13","value":-8.8},
      {"station":"GDB","type":"Aquatic","date":"2023-12-31","value":-9.2}
    ]
  },
  "spacing": 21,
  "resolve": {"scale": {"color": "shared", "strokeDash": "shared"}, "legend": {"color": "shared", "strokeDash": "shared"}},
  "hconcat": [
    {
      "width": 720,
      "height": 636,
      "title": {"text": "a) Difference in Hg"},
      "data": {"name": "hg"},
      "transform": [{"lookup": "station", "from": {"data": {"name": "stations"}, "key": "code", "fields": ["name"]}}],
      "mark": {"type": "line", "strokeWidth": 2.2},
      "encoding": {
        "x": {"field": "date", "type": "temporal", "title": "Date",
          "scale": {"type": "utc", "domain": [{"year": 2022, "month": 12, "date": 13, "hours": 19, "minutes": 12, "utc": true}, {"year": 2024, "month": 1, "date": 18, "hours": 4, "minutes": 48, "utc": true}]},
          "axis": {"values": [{"year": 2023, "month": 1, "date": 1, "utc": true}, {"year": 2023, "month": 2, "date": 15, "utc": true}, {"year": 2023, "month": 4, "date": 1, "utc": true}, {"year": 2023, "month": 5, "date": 16, "hours": 12, "utc": true}, {"year": 2023, "month": 7, "date": 1, "utc": true}, {"year": 2023, "month": 8, "date": 16, "utc": true}, {"year": 2023, "month": 10, "date": 1, "utc": true}, {"year": 2023, "month": 11, "date": 16, "utc": true}, {"year": 2024, "month": 1, "date": 1, "utc": true}],
            "labelExpr": "utcdate(datum.value) == 1 ? utcFormat(datum.value, '%b %Y') : ''",
            "gridWidth": {"condition": {"test": "utcdate(datum.value) == 1", "value": 1.6}, "value": 0.8},
            "labelPadding": 10, "titlePadding": 7}},
        "y": {"field": "value", "type": "quantitative", "title": "Hg Difference (%)",
          "scale": {"domain": [-15.0, 12.41], "nice": false, "zero": false},
          "axis": {"values": [-15, -12.5, -10, -7.5, -5, -2.5, 0, 2.5, 5, 7.5, 10],
            "labelExpr": "datum.value % 5 == 0 ? '' + datum.value : ''",
            "gridWidth": {"condition": {"test": "datum.value % 5 == 0", "value": 1.6}, "value": 0.8},
            "labelPadding": 13, "titlePadding": 4.5}},
        "color": {"field": "name", "type": "nominal",
          "scale": {"domain": ["Gotland Deep (No bioaccumulation)", "Northern North Sea (No bioaccumulation)", "Southern North Sea (No bioaccumulation)", "Gotland Deep (No biogenic reduction)"], "range": ["#F8766D", "#7CAE00", "#00BFC4", "#C77CFF"]},
          "legend": {"title": "Station", "orient": "none", "legendX": 1587, "legendY": 127}},
        "strokeDash": {"field": "type", "type": "nominal",
          "scale": {"domain": ["Aquatic", "Total"], "range": [[9, 8], [1, 0]]},
          "legend": {"title": "Line Type", "orient": "none", "legendX": 1587, "legendY": 391, "symbolStrokeColor": "#000000"}}
      }
    },
    {
      "width": 720,
      "height": 636,
      "title": {"text": "b) Difference in MeHg"},
      "data": {"name": "mehg"},
      "transform": [{"lookup": "station", "from": {"data": {"name": "stations"}, "key": "code", "fields": ["name"]}}],
      "mark": {"type": "line", "strokeWidth": 2.2},
      "encoding": {
        "x": {"field": "date", "type": "temporal", "title": "Date",
          "scale": {"type": "utc", "domain": [{"year": 2022, "month": 12, "date": 13, "hours": 19, "minutes": 12, "utc": true}, {"year": 2024, "month": 1, "date": 18, "hours": 4, "minutes": 48, "utc": true}]},
          "axis": {"values": [{"year": 2023, "month": 1, "date": 1, "utc": true}, {"year": 2023, "month": 2, "date": 15, "utc": true}, {"year": 2023, "month": 4, "date": 1, "utc": true}, {"year": 2023, "month": 5, "date": 16, "hours": 12, "utc": true}, {"year": 2023, "month": 7, "date": 1, "utc": true}, {"year": 2023, "month": 8, "date": 16, "utc": true}, {"year": 2023, "month": 10, "date": 1, "utc": true}, {"year": 2023, "month": 11, "date": 16, "utc": true}, {"year": 2024, "month": 1, "date": 1, "utc": true}],
            "labelExpr": "utcdate(datum.value) == 1 ? utcFormat(datum.value, '%b %Y') : ''",
            "gridWidth": {"condition": {"test": "utcdate(datum.value) == 1", "value": 1.6}, "value": 0.8},
            "labelPadding": 10, "titlePadding": 7}},
        "y": {"field": "value", "type": "quantitative", "title": "MeHg Difference (%)",
          "scale": {"domain": [-66.5, 83.2], "nice": false, "zero": false},
          "axis": {"values": [-60, -40, -20, 0, 20, 40, 60, 80],
            "labelExpr": "datum.value % 40 == 0 ? '' + datum.value : ''",
            "gridWidth": {"condition": {"test": "datum.value % 40 == 0", "value": 1.6}, "value": 0.8},
            "labelPadding": 13, "titlePadding": 4.5}},
        "color": {"field": "name", "type": "nominal",
          "scale": {"domain": ["Gotland Deep (No bioaccumulation)", "Northern North Sea (No bioaccumulation)", "Southern North Sea (No bioaccumulation)", "Gotland Deep (No biogenic reduction)"], "range": ["#F8766D", "#7CAE00", "#00BFC4", "#C77CFF"]},
          "legend": {"title": "Station", "orient": "none", "legendX": 1587, "legendY": 127}},
        "strokeDash": {"field": "type", "type": "nominal",
          "scale": {"domain": ["Aquatic", "Total"], "range": [[9, 8], [1, 0]]},
          "legend": {"title": "Line Type", "orient": "none", "legendX": 1587, "legendY": 391, "symbolStrokeColor": "#000000"}}
      }
    }
  ]
}
